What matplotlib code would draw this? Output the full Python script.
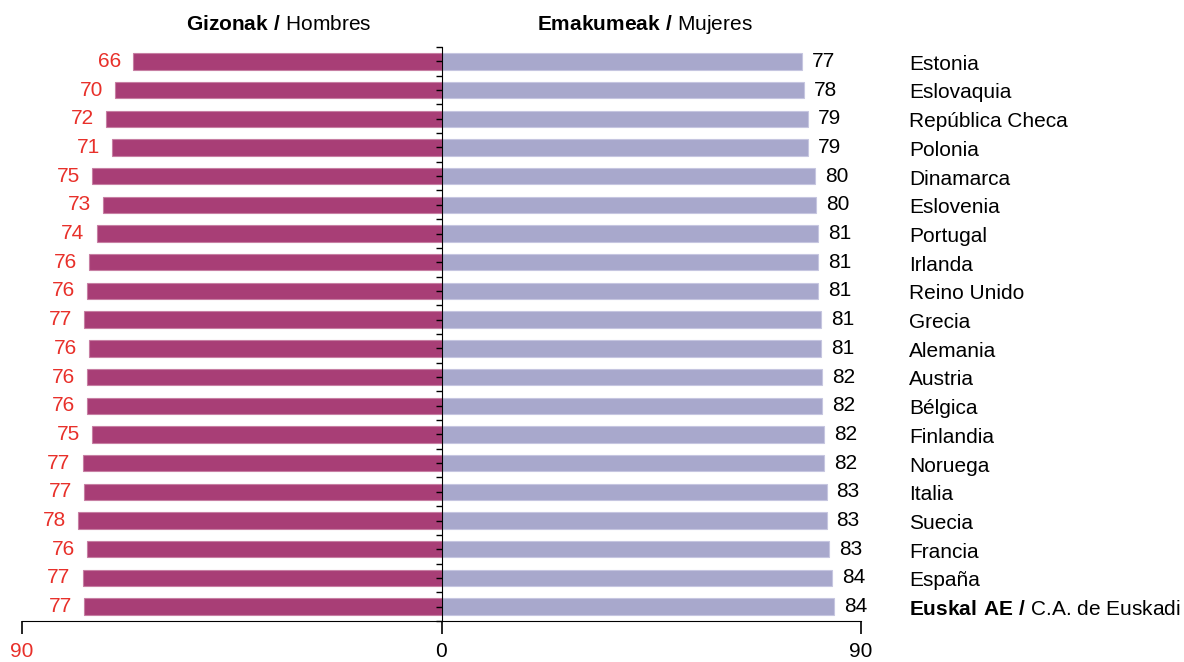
import matplotlib
matplotlib.use("Agg")
import matplotlib.pyplot as plt
import matplotlib.transforms as mtransforms
import numpy as np

# data
countries = ["Estonia", "Eslovaquia", "República Checa", "Polonia", "Dinamarca",
             "Eslovenia", "Portugal", "Irlanda", "Reino Unido", "Grecia",
             "Alemania", "Austria", "Bélgica", "Finlandia", "Noruega",
             "Italia", "Suecia", "Francia", "España",
             r"$\mathbf{Euskal\ AE\ /}$ C.A. de Euskadi"]
men = [66.2, 70.0, 72.0, 70.6, 75.0, 72.6, 74.0, 75.6, 76.0, 76.6,
       75.6, 76.0, 76.0, 75.0, 77.0, 76.6, 78.0, 76.0, 77.0, 76.6]
women = [77.3, 77.8, 78.7, 78.7, 80.1, 80.4, 80.7, 80.7, 80.7, 81.4,
         81.4, 81.6, 81.6, 82.1, 82.1, 82.6, 82.6, 83.2, 83.7, 84.2]
axis_ticks = [-90, 0, 90]
axis_labels = ["90", "0", "90"]

men_color = "#A83E76"
women_color = "#A8A8CC"
red = "#E8302A"

plt.rcParams["font.family"] = ["Liberation Sans", "DejaVu Sans"]
plt.rcParams["mathtext.fontset"] = "custom"
plt.rcParams["mathtext.rm"] = "Liberation Sans"
plt.rcParams["mathtext.bf"] = "Liberation Sans:bold"
fs = 15

fig = plt.figure(figsize=(11.84, 6.62), dpi=100)
ax = fig.add_axes([22/1184, 1 - 621/662, 839/1184, 574/662])

y = np.arange(len(countries))
ax.barh(y, -np.array(men), height=0.57, color=men_color,
        edgecolor="#C77FA3", linewidth=0.8, zorder=1)
ax.barh(y, women, height=0.57, color=women_color,
        edgecolor="#C6C6E0", linewidth=0.8, zorder=1)

ax.set_xlim(-90, 90)
ax.set_ylim(len(countries) - 0.5, -0.5)

# value labels
for i in range(len(countries)):
    ax.annotate(f"{men[i]:.0f}", xy=(-men[i], i), xytext=(-12, 0),
                textcoords="offset pixels", ha="right", va="center",
                fontsize=fs, color=red)
    ax.annotate(f"{women[i]:.0f}", xy=(women[i], i), xytext=(10, 0),
                textcoords="offset pixels", ha="left", va="center",
                fontsize=fs, color="black")

# country names at the right
trans = mtransforms.blended_transform_factory(fig.transFigure, ax.transData)
for i, name in enumerate(countries):
    ax.text(909/1184, i + 0.1, name, transform=trans, ha="left", va="center",
            fontsize=fs, clip_on=False)

# headers
htrans = mtransforms.blended_transform_factory(ax.transData, fig.transFigure)
ax.text(-35, 1 - 25/662, r"$\mathbf{Gizonak\ /}$ Hombres", transform=htrans,
        ha="center", va="center", fontsize=fs)
ax.text(43.7, 1 - 25/662, r"$\mathbf{Emakumeak\ /}$ Mujeres", transform=htrans,
        ha="center", va="center", fontsize=fs)

# axes
for s in ["top", "right"]:
    ax.spines[s].set_visible(False)
ax.spines["left"].set_position(("data", 0))
ax.spines["left"].set_zorder(3)
ax.set_yticks(y)
ax.set_yticks(np.arange(-0.5, len(countries), 1), minor=True)
ax.tick_params(axis="y", which="both", direction="out", length=4.5,
               width=1, labelleft=False)
ax.set_xticks(axis_ticks)
ax.set_xticklabels(axis_labels, fontsize=15)
ax.tick_params(axis="x", direction="out", length=9, width=1.2, pad=6)
ax.get_xticklabels()[0].set_color(red)

plt.savefig("out.png", dpi=100)
